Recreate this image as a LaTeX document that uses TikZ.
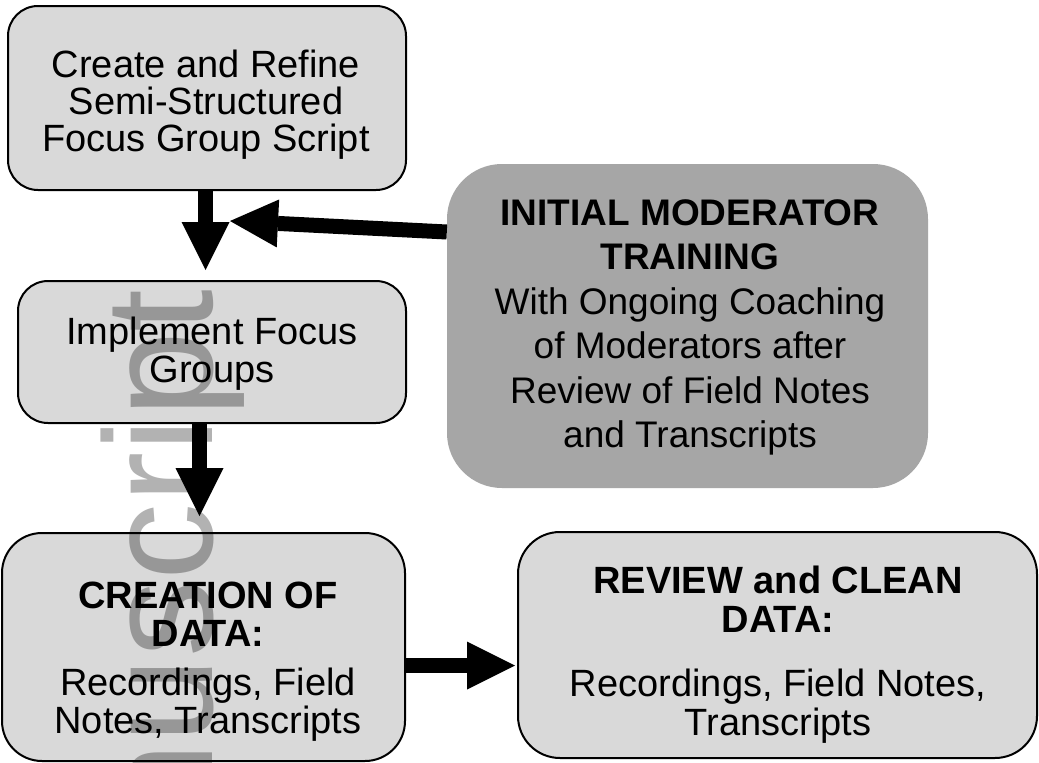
\documentclass[tikz,border=0pt]{standalone}
\usepackage{fontspec}
\setmainfont{Liberation Sans}
\usetikzlibrary{arrows.meta}
\definecolor{lightbox}{HTML}{D9D9D9}
\definecolor{darkbox}{HTML}{A6A6A6}
\begin{document}
\begin{tikzpicture}[x=1pt,y=-1pt,
  box/.style={draw=black, line width=2pt, fill=lightbox, inner sep=0pt},
  darkpanel/.style={fill=darkbox, inner sep=0pt},
  lbl/.style={align=center, inner sep=0pt, text=black},
  blk/.style={line width=15pt, -{Triangle[width=48pt,length=48pt,line width=0pt]}},
  wmark/.style={rotate=90, anchor=base east, inner sep=0pt, text=black, text opacity=0.3,
                font=\fontsize{154}{154}\selectfont}]
\useasboundingbox (0,0) rectangle (1039,763);
\clip (0,0) rectangle (1039,763);
\fill[white] (0,0) rectangle (1039,763);

% boxes
\node[box, rounded corners=30pt, minimum width=398pt, minimum height=184pt] (b1) at (207,98) {};
\node[box, rounded corners=30pt, minimum width=388pt, minimum height=142pt] (b2) at (212,352) {};
\node[box, rounded corners=40pt, minimum width=403pt, minimum height=228pt] (b3) at (203.5,647) {};
\node[box, rounded corners=42pt, minimum width=519pt, minimum height=226pt] (b4) at (777.5,645) {};
\node[darkpanel, rounded corners=55pt, minimum width=481pt, minimum height=324pt] (b5) at (687.5,326) {};

% watermark
\node[wmark] (wm) at (212,289) {Author Manuscript};

% texts
\node[lbl, font=\fontsize{38}{37}\selectfont] (t1) at (206,104.2)
  {Create and Refine\\Semi-Structured\\Focus Group Script};
\node[lbl, font=\fontsize{38}{38}\selectfont] (t2) at (212,354)
  {Implement Focus\\Groups};
\node[lbl, font=\fontsize{38}{38.5}\selectfont] (t3) at (208,661.5)
  {\textbf{CREATION OF}\\\textbf{DATA:}\\[10pt]Recordings, Field\\Notes, Transcripts};
\node[lbl, font=\fontsize{38}{38.5}\selectfont] (t4) at (778,654.5)
  {\textbf{REVIEW and CLEAN}\\\textbf{DATA:}\\[26pt]Recordings, Field Notes,\\Transcripts};
\node[lbl, font=\fontsize{37}{44.4}\selectfont] (t5) at (690,327.5)
  {\textbf{INITIAL MODERATOR}\\\textbf{TRAINING}\\With Ongoing Coaching\\of Moderators after\\Review of Field Notes\\and Transcripts};

% arrows
\coordinate (tipL) at (230,221);
\draw[blk] ([xshift=-1.5pt]b1.south) -- ([xshift=-6.5pt,yshift=10pt]b2.north);
\draw[blk] ([yshift=94pt]b5.west) -- (tipL);
\draw[blk] ([xshift=-12.5pt]b2.south) -- ([xshift=-4pt,yshift=16pt]b3.north);
\draw[blk] ([yshift=-18.5pt]b3.east) -- ([xshift=-2pt,yshift=-20.5pt]b4.west);
\end{tikzpicture}
\end{document}
